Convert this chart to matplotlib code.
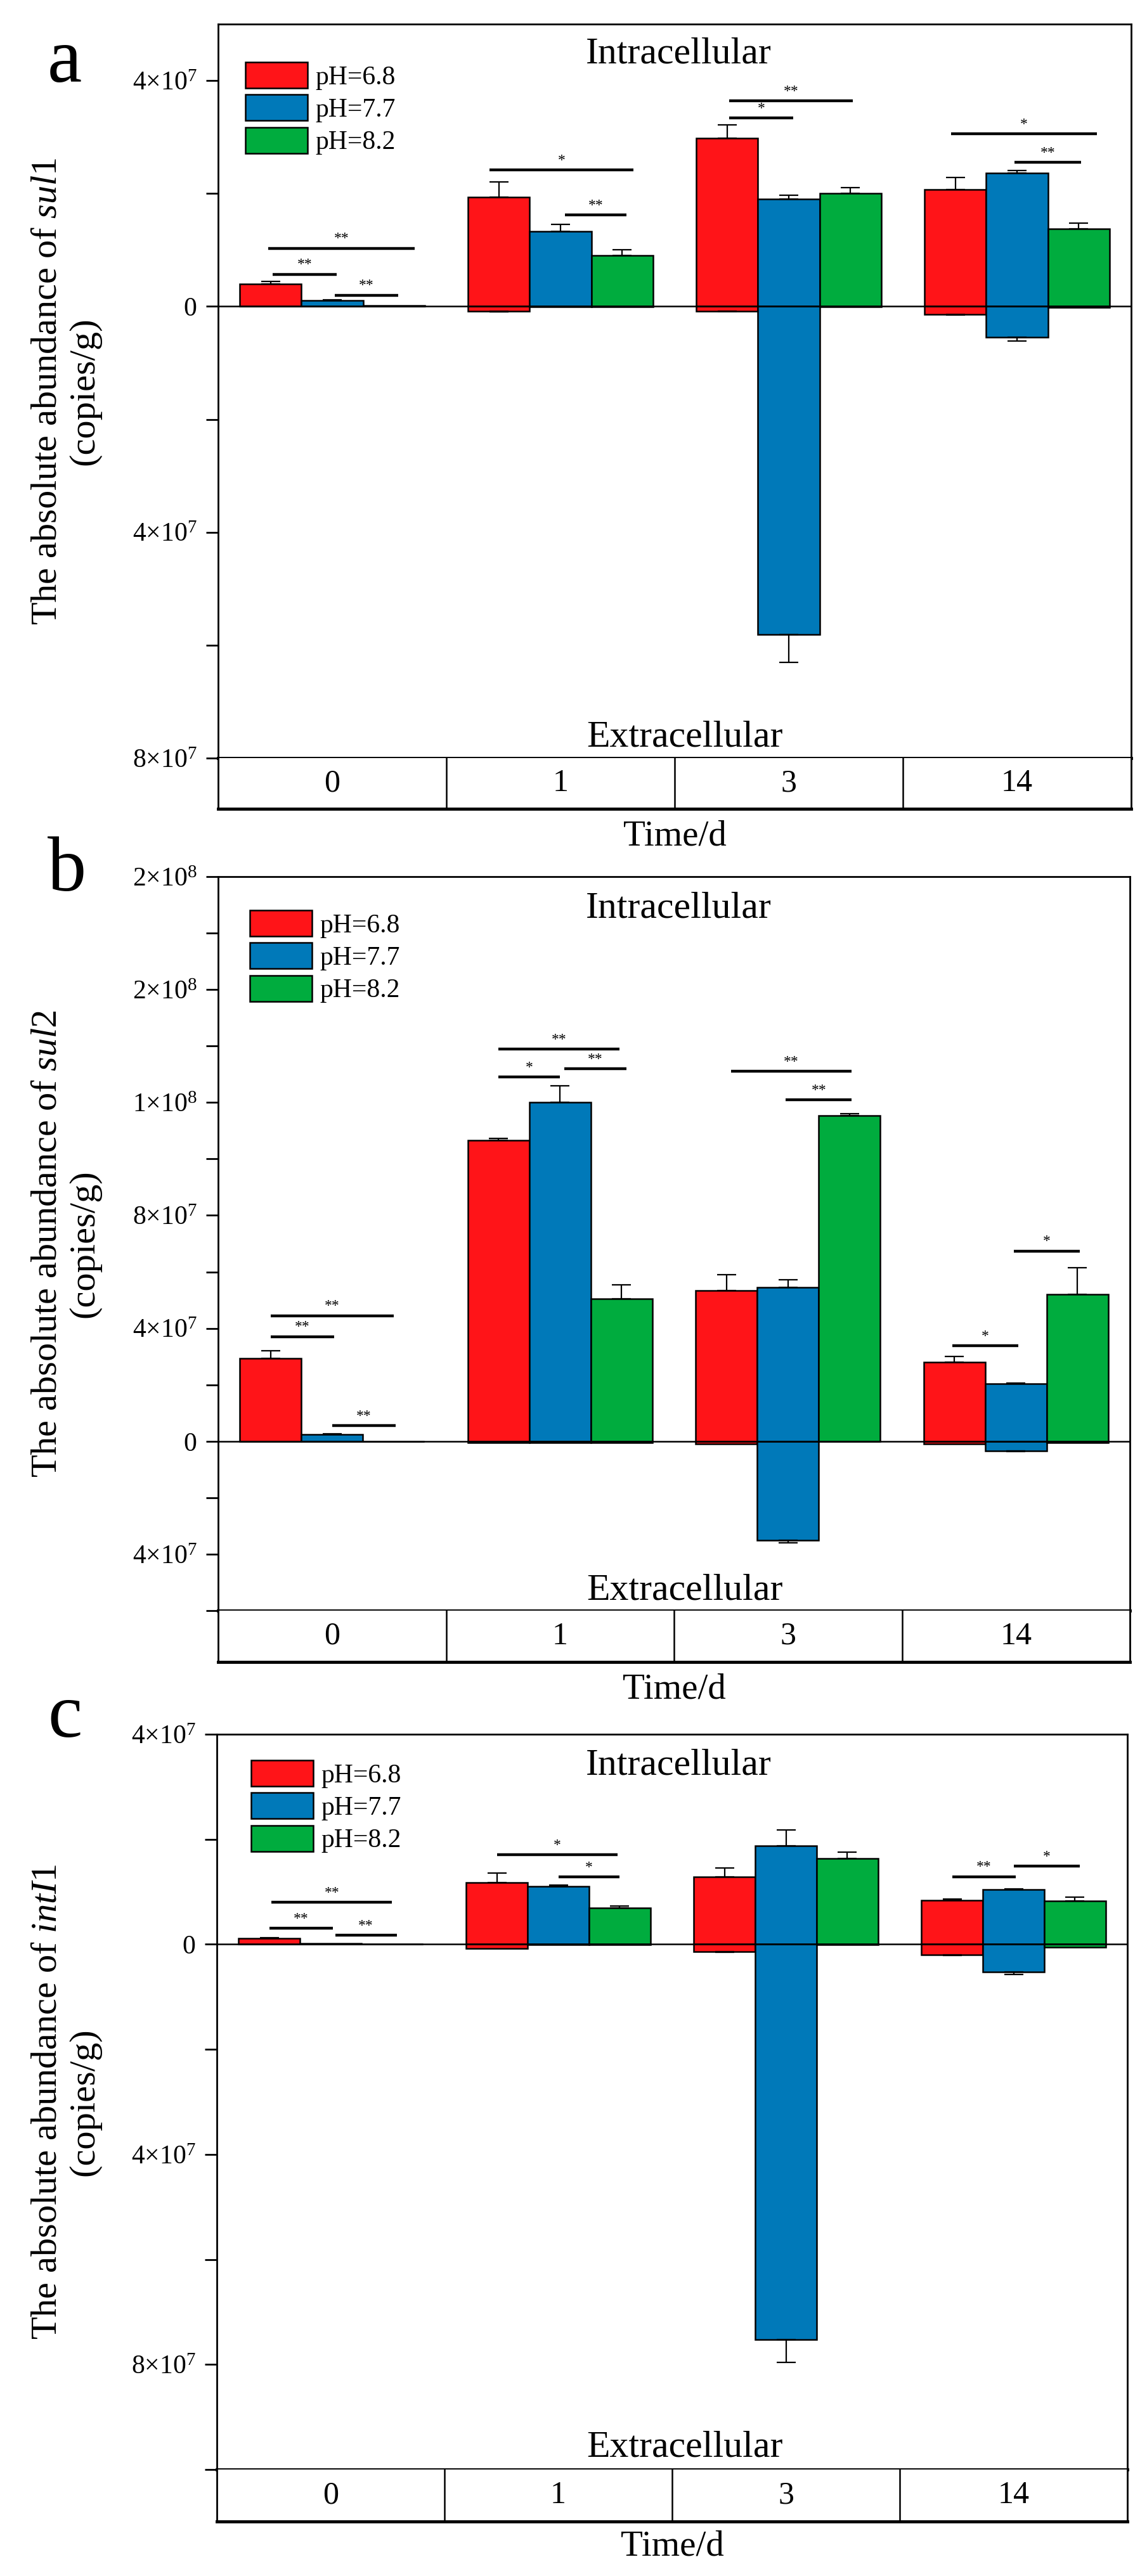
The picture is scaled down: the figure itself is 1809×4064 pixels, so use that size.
import matplotlib
matplotlib.use('Agg')
import matplotlib.pyplot as plt
import numpy as np

plt.rcParams['font.family'] = ['Liberation Serif', 'DejaVu Serif']
plt.rcParams['mathtext.fontset'] = 'custom'
plt.rcParams['mathtext.rm'] = 'Liberation Serif'
plt.rcParams['mathtext.it'] = 'Liberation Serif:italic'

W, H, DPI = 1809, 4064, 100

days = ['0', '1', '3', '14']
ph_labels = ['pH=6.8', 'pH=7.7', 'pH=8.2']
colors = ['#FF1418', '#0079B9', '#00AC3E']

# all abundances in units of 1e7 copies/g, rows = pH 6.8, 7.7, 8.2
sul1_intra = [[0.40, 1.93, 2.98, 2.07], [0.11, 1.33, 1.90, 2.36], [0.02, 0.90, 2.00, 1.37]]
sul1_intra_err = [[0.04, 0.27, 0.23, 0.21], [0.01, 0.12, 0.07, 0.05], [0.0, 0.10, 0.10, 0.10]]
sul1_extra = [[0.0, 0.09, 0.08, 0.14], [0.0, 0.01, 5.81, 0.55], [0.0, 0.01, 0.01, 0.02]]
sul1_extra_err = [[0.0, 0.01, 0.01, 0.01], [0.0, 0.0, 0.50, 0.06], [0.0, 0.0, 0.0, 0.0]]

sul2_intra = [[2.94, 10.67, 5.33, 2.81], [0.25, 12.0, 5.44, 2.04], [0.0, 5.05, 11.53, 5.20]]
sul2_intra_err = [[0.27, 0.05, 0.56, 0.20], [0.02, 0.60, 0.27, 0.02], [0.0, 0.50, 0.08, 0.95]]
sul2_extra = [[0.0, 0.05, 0.10, 0.10], [0.0, 0.05, 3.50, 0.34], [0.0, 0.05, 0.0, 0.05]]
sul2_extra_err = [[0.0, 0.0, 0.0, 0.0], [0.0, 0.0, 0.10, 0.02], [0.0, 0.0, 0.0, 0.0]]

intI1_intra = [[0.11, 1.18, 1.28, 0.84], [0.02, 1.10, 1.87, 1.04], [0.0, 0.69, 1.63, 0.82]]
intI1_intra_err = [[0.01, 0.18, 0.17, 0.02], [0.0, 0.03, 0.31, 0.02], [0.0, 0.04, 0.12, 0.08]]
intI1_extra = [[0.0, 0.08, 0.14, 0.20], [0.0, 0.01, 7.53, 0.53], [0.0, 0.01, 0.01, 0.06]]
intI1_extra_err = [[0.0, 0.0, 0.01, 0.01], [0.0, 0.0, 0.43, 0.05], [0.0, 0.0, 0.0, 0.0]]

# significance brackets: (x start, x end, y, label)
sul1_sig = [(-0.28, 0.36, 1.03, '**'), (-0.26, 0.02, 0.57, '**'), (0.01, 0.29, 0.20, '**'),
            (0.69, 1.32, 2.42, '*'), (1.02, 1.29, 1.62, '**'),
            (1.74, 2.28, 3.64, '**'), (1.74, 2.02, 3.34, '*'),
            (2.71, 3.35, 3.06, '*'), (2.99, 3.28, 2.55, '**')]
sul2_sig = [(-0.27, 0.27, 4.45, '**'), (-0.27, 0.01, 3.71, '**'), (0.0, 0.28, 0.56, '**'),
            (0.73, 1.26, 13.9, '**'), (0.73, 1.0, 12.9, '*'), (1.02, 1.29, 13.2, '**'),
            (1.75, 2.28, 13.1, '**'), (1.99, 2.28, 12.1, '**'),
            (2.72, 3.01, 3.39, '*'), (2.99, 3.28, 6.74, '*')]
intI1_sig = [(-0.26, 0.27, 0.80, '**'), (-0.27, 0.01, 0.31, '**'), (0.02, 0.29, 0.17, '**'),
             (0.73, 1.26, 1.71, '*'), (1.0, 1.27, 1.28, '*'),
             (2.73, 3.01, 1.29, '**'), (3.0, 3.29, 1.49, '*')]

def sci(m, e):
    return r'$\mathregular{%d{\times}10^{%d}}$' % (m, e)

sul1_ticks = [4, 2, 0, -2, -4, -6, -8]
sul1_ticklabels = [sci(4, 7), '', '0', '', sci(4, 7), '', sci(8, 7)]
sul2_ticks = [20, 18, 16, 14, 12, 10, 8, 6, 4, 2, 0, -2, -4, -6]
sul2_ticklabels = [sci(2, 8), '', sci(2, 8), '', sci(1, 8), '', sci(8, 7), '', sci(4, 7), '', '0', '', sci(4, 7), '']
intI1_ticks = [4, 2, 0, -2, -4, -6, -8, -10]
intI1_ticklabels = [sci(4, 7), '', '0', '', sci(4, 7), '', sci(8, 7), '']


def fx(px):
    return px / W


def fy(py):
    return 1 - py / H


fig = plt.figure(figsize=(W / DPI, H / DPI), dpi=DPI)

BAR_W = 0.27
offsets = [-BAR_W, 0, BAR_W]


def draw_panel(box, intra, intra_err, extra, extra_err, ylim, ticks, ticklabels,
               sig, gene, letter, letter_y, leg_xy, texts_y, time_y):
    left, right, top, bottom, tbottom = box
    ax = fig.add_axes([fx(left), fy(bottom), fx(right - left), (bottom - top) / H])
    tax = fig.add_axes([fx(left), fy(tbottom), fx(right - left), (tbottom - bottom) / H])
    x = np.arange(len(days))

    for i in range(3):
        xi = x + offsets[i]
        vin = np.array(intra[i])
        vex = -np.array(extra[i])
        ax.bar(xi, vin, BAR_W, color=colors[i], edgecolor='black', linewidth=1.8,
               label=ph_labels[i], zorder=2)
        ax.bar(xi, vex, BAR_W, color=colors[i], edgecolor='black', linewidth=1.8, zorder=2)
        ein = np.array(intra_err[i])
        eex = np.array(extra_err[i])
        m = ein > 0
        if m.any():
            ax.errorbar(xi[m], vin[m], yerr=[np.zeros(m.sum()), ein[m]], fmt='none',
                        ecolor='black', elinewidth=1.6, capsize=11, capthick=1.6, zorder=3)
        m = eex > 0
        if m.any():
            ax.errorbar(xi[m], vex[m], yerr=[eex[m], np.zeros(m.sum())], fmt='none',
                        ecolor='black', elinewidth=1.6, capsize=11, capthick=1.6, zorder=3)

    ax.axhline(0, color='black', linewidth=1.8, zorder=4)

    for x0, x1, y, lab in sig:
        ax.plot([x0, x1], [y, y], color='black', linewidth=3.2, solid_capstyle='butt', zorder=3)
        ax.annotate(lab, xy=((x0 + x1) / 2, y), xytext=(0, 3), textcoords='offset points',
                    ha='center', va='bottom', fontsize=17)

    ax.set_xlim(-0.5, 3.5)
    ax.set_ylim(*ylim)
    ax.set_xticks([])
    ax.set_yticks(ticks)
    ax.set_yticklabels(ticklabels)
    ax.tick_params(axis='y', direction='out', length=14, width=2, pad=10, labelsize=30)
    for s in ['left', 'right', 'top']:
        ax.spines[s].set_linewidth(2)
    ax.spines['bottom'].set_linewidth(3.5)

    tax.set_xlim(-0.5, 3.5)
    tax.set_ylim(0, 1)
    tax.set_xticks([])
    tax.set_yticks([])
    for v in [0.5, 1.5, 2.5]:
        tax.axvline(v, color='black', linewidth=1.8)
    for i, d in enumerate(days):
        tax.text(i, 0.5, d, ha='center', va='center', fontsize=36)
    for s in ['left', 'right']:
        tax.spines[s].set_linewidth(2)
    tax.spines['top'].set_visible(False)
    tax.spines['bottom'].set_linewidth(3.5)

    ax.legend(loc='upper left', bbox_to_anchor=(fx(leg_xy[0]), fy(leg_xy[1])),
              bbox_transform=fig.transFigure, frameon=False, fontsize=30,
              borderpad=0, borderaxespad=0, handlelength=2.35, handleheight=1.13,
              labelspacing=0.19, handletextpad=0.3)

    cx = (left + right) / 2
    fig.text(fx(1070), fy(texts_y[0]), 'Intracellular', ha='center', va='center', fontsize=43)
    fig.text(fx(1080), fy(texts_y[1]), 'Extracellular', ha='center', va='center', fontsize=43)
    fig.text(fx(cx), fy(time_y), 'Time/d', ha='center', va='center', fontsize=41)
    fig.text(fx(75), fy(letter_y), letter, ha='left', va='baseline', fontsize=88)
    fig.text(fx(104), fy((top + bottom) / 2),
             'The absolute abundance of $\\mathit{%s}$\n(copies/g)' % gene,
             rotation=90, ha='center', va='center', fontsize=42,
             multialignment='center', linespacing=1.15)


draw_panel((344, 1784, 38, 1196, 1276), sul1_intra, sul1_intra_err, sul1_extra, sul1_extra_err,
           (-8, 5), sul1_ticks, sul1_ticklabels, sul1_sig, 'sul1', 'a', 129,
           (387, 98), (85, 1164), 1320)
draw_panel((344, 1782, 1383, 2541, 2622), sul2_intra, sul2_intra_err, sul2_extra, sul2_extra_err,
           (-6, 20), sul2_ticks, sul2_ticklabels, sul2_sig, 'sul2', 'b', 1405,
           (394, 1436), (1434, 2510), 2665)
draw_panel((342, 1778, 2736, 3896, 3978), intI1_intra, intI1_intra_err, intI1_extra, intI1_extra_err,
           (-10, 4), intI1_ticks, intI1_ticklabels, intI1_sig, 'intI1', 'c', 2740,
           (396, 2777), (2785, 3862), 4017)

fig.savefig('out.png', dpi=DPI)
